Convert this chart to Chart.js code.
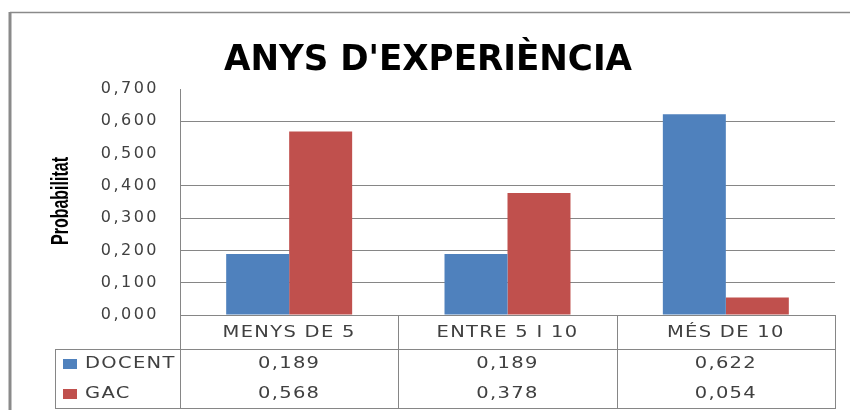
<!DOCTYPE html>
<html>
<head>
<meta charset="utf-8">
<title>Anys d'experiència</title>
<script src="https://cdn.jsdelivr.net/npm/chart.js@4.4.1/dist/chart.umd.min.js"></script>
<style>
  html, body { margin: 0; padding: 0; background: #fff; }
  canvas { display: block; }
</style>
</head>
<body>
<canvas id="chart" width="850" height="410"></canvas>
<script>
// --- Data ---
const chartTitle = "ANYS D'EXPERIÈNCIA";
const yTitle = 'Probabilitat';
const categories = ['MENYS DE 5', 'ENTRE 5 I 10', 'MÉS DE 10'];
const seriesNames = ['DOCENT', 'GAC'];
const docentValues = [0.189, 0.189, 0.622];
const gacValues = [0.568, 0.378, 0.054];
const yMin = 0;
const yMax = 0.7;
const yStep = 0.1;
const hiddenGridTicks = [0.5, 0.7]; // the reference shows no line at these

const colors = ['#4F81BD', '#C0504D'];
const lineColor = '#868686';
const textColor = '#404040';

const fmt = (v) => v.toFixed(3).replace('.', ',');

// wide text, like the stretched labels of the original
const wideText = (ctx, text, x, y, align) => {
    const sx = 1.3;
    ctx.save();
    ctx.letterSpacing = '1px';
    ctx.textAlign = 'left';
    const w = ctx.measureText(text).width * sx;
    let left = x;
    if (align === 'center') left = x - w / 2;
    ctx.translate(left, y);
    ctx.scale(sx, 1);
    ctx.fillText(text, 0, 0);
    ctx.restore();
};

// --- Data table + titles, drawn under the plot ---
const tablePlugin = {
    id: 'dataTable',
    beforeDraw(chart) {
        // spaced look of the tick text
        chart.ctx.letterSpacing = '2.5px';
    },
    afterDraw(chart) {
        const ctx = chart.ctx;
        const area = chart.chartArea;
        const colW = (area.right - area.left) / categories.length;
        const headTop = area.bottom;
        const headBottom = headTop + 34;
        const rowH = 30;
        const tableBottom = headBottom + rowH * seriesNames.length;
        const legendLeft = 55;

        ctx.save();
        ctx.letterSpacing = '0px';

        // outer frame (left + top)
        ctx.strokeStyle = '#8a8a8a';
        ctx.lineWidth = 3;
        ctx.beginPath();
        ctx.moveTo(10, chart.height);
        ctx.lineTo(10, 12);
        ctx.stroke();
        ctx.lineWidth = 1.5;
        ctx.beginPath();
        ctx.moveTo(10, 12.5);
        ctx.lineTo(chart.width, 12.5);
        ctx.stroke();

        // table grid
        ctx.strokeStyle = lineColor;
        ctx.lineWidth = 1;
        ctx.beginPath();
        for (let i = 0; i <= categories.length; i++) {
            const x = Math.round(area.left + i * colW) + 0.5;
            ctx.moveTo(x, headTop);
            ctx.lineTo(x, tableBottom);
        }
        ctx.moveTo(legendLeft + 0.5, headBottom);
        ctx.lineTo(legendLeft + 0.5, tableBottom);
        ctx.moveTo(legendLeft, headBottom + 0.5);
        ctx.lineTo(area.right, headBottom + 0.5);
        ctx.moveTo(legendLeft, tableBottom - 0.5);
        ctx.lineTo(area.right, tableBottom - 0.5);
        ctx.stroke();

        // table text
        ctx.font = '15px "DejaVu Sans"';
        ctx.fillStyle = textColor;
        ctx.textBaseline = 'middle';
        categories.forEach((c, i) => {
            const cx = chart.scales.x.getPixelForValue(i);
            wideText(ctx, c, cx, (headTop + headBottom) / 2 + 1, 'center');
        });
        chart.data.datasets.forEach((ds, r) => {
            const cy = headBottom + rowH * r + rowH / 2;
            ds.data.forEach((v, i) => {
                const cx = chart.scales.x.getPixelForValue(i);
                wideText(ctx, fmt(v), cx, cy, 'center');
            });
            ctx.fillStyle = ds.backgroundColor;
            ctx.fillRect(63, cy - 5, 14, 10);
            ctx.fillStyle = textColor;
            wideText(ctx, ds.label, 85, cy, 'left');
        });

        // chart title
        ctx.fillStyle = '#000';
        ctx.textAlign = 'center';
        ctx.textBaseline = 'alphabetic';
        ctx.font = 'bold 36px "DejaVu Sans"';
        ctx.fillText(chartTitle, 428, 70, 408);

        // y axis title (condensed)
        ctx.translate(68, 201);
        ctx.rotate(-Math.PI / 2);
        ctx.font = 'bold 24px "Liberation Sans"';
        ctx.fillText(yTitle, 0, 0, 88);

        ctx.restore();
        ctx.letterSpacing = '0px';
    }
};

new Chart(document.getElementById('chart'), {
    type: 'bar',
    data: {
        labels: categories,
        datasets: [
            { label: seriesNames[0], data: docentValues, backgroundColor: colors[0] },
            { label: seriesNames[1], data: gacValues, backgroundColor: colors[1] }
        ]
    },
    options: {
        responsive: false,
        animation: false,
        devicePixelRatio: 1,
        layout: { padding: { left: 0, right: 15, top: 89, bottom: 95 } },
        datasets: {
            bar: { categoryPercentage: 0.577, barPercentage: 1, borderWidth: 0 }
        },
        scales: {
            x: { display: false },
            y: {
                min: yMin,
                max: yMax,
                afterFit: (scale) => { scale.width = 180; },
                border: { display: true, color: lineColor, width: 1 },
                grid: {
                    drawTicks: false,
                    lineWidth: 1,
                    color: (c) => {
                        const v = Math.round(c.tick.value * 10) / 10;
                        return hiddenGridTicks.includes(v) ? 'rgba(0,0,0,0)' : lineColor;
                    }
                },
                ticks: {
                    stepSize: yStep,
                    padding: 21,
                    color: textColor,
                    font: { family: 'DejaVu Sans', size: 16 },
                    callback: (v) => fmt(v)
                }
            }
        },
        plugins: {
            legend: { display: false },
            title: { display: false },
            tooltip: { enabled: false }
        }
    },
    plugins: [tablePlugin]
});
</script>
</body>
</html>
